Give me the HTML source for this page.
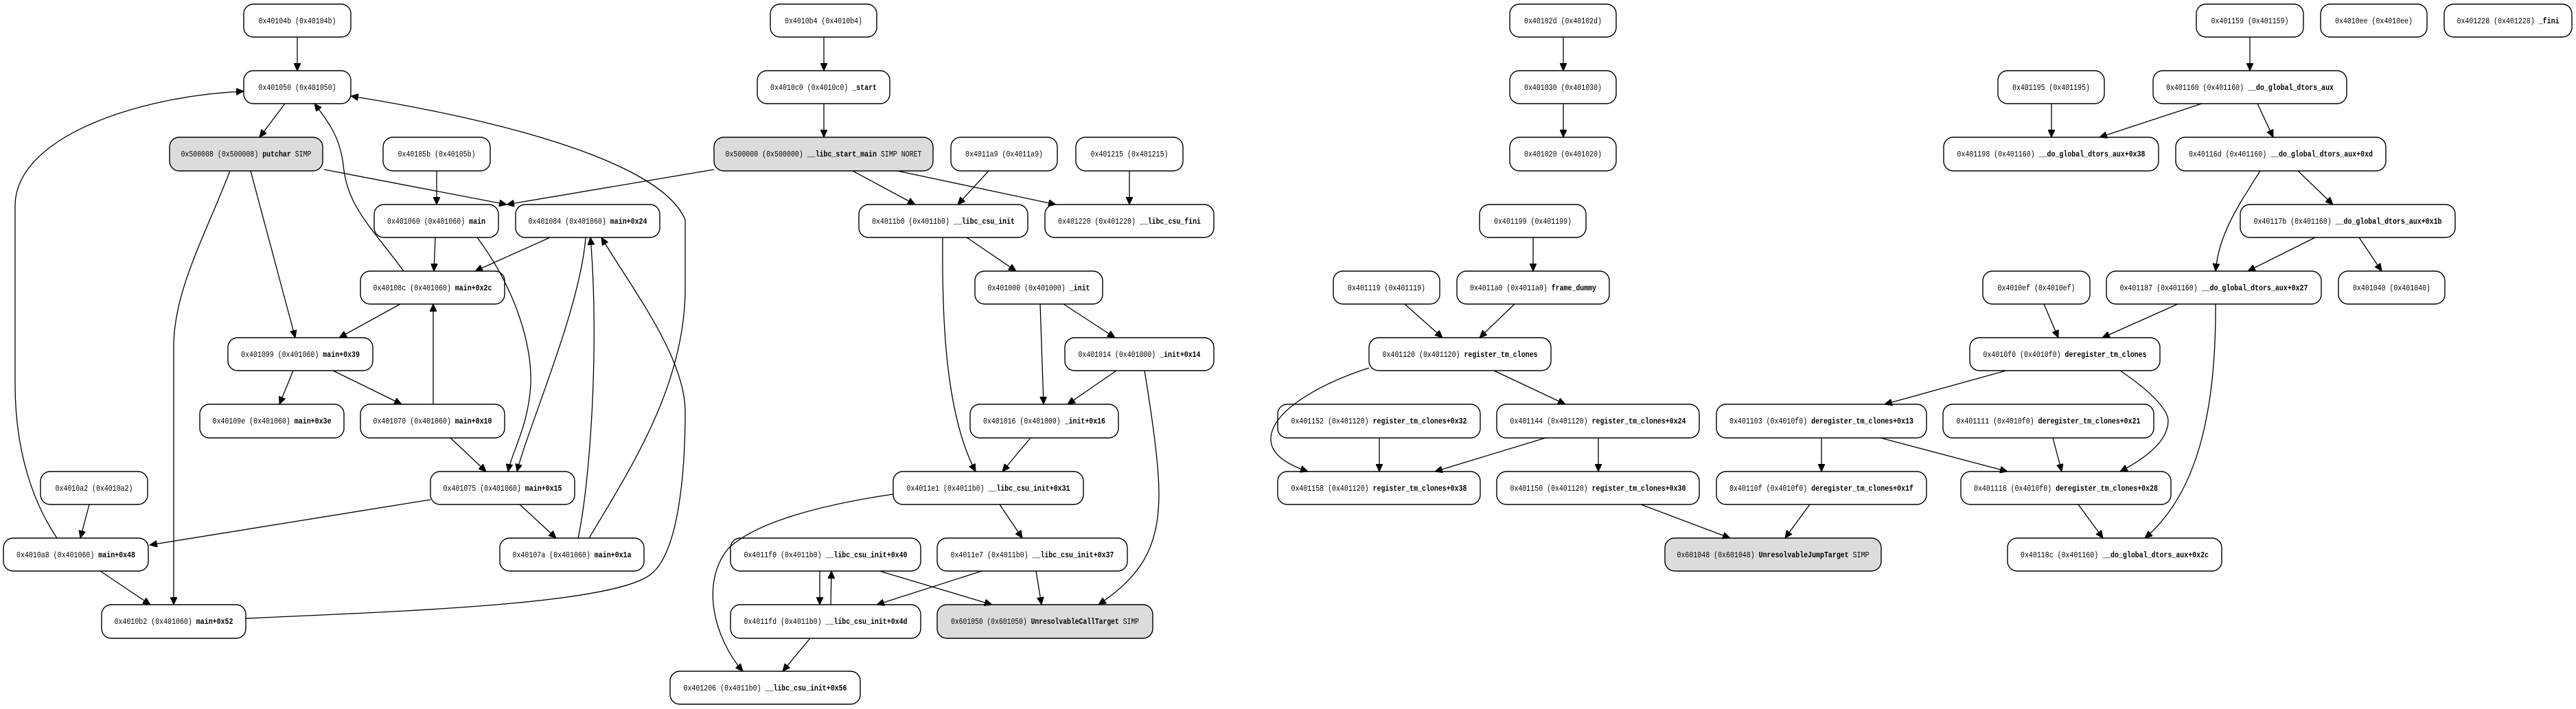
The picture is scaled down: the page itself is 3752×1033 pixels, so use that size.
<!DOCTYPE html>
<html><head><meta charset="utf-8"><style>
html,body{margin:0;padding:0;background:#fff;}
svg{display:block}
.n{fill:#fff;stroke:#000;stroke-width:1.4}
.g{fill:#dcdcdc;stroke:#000;stroke-width:1.4}
text{font-family:"Liberation Mono","DejaVu Sans Mono",monospace;font-size:12px;fill:#000;text-anchor:middle}
.b{font-weight:bold}
path{fill:none;stroke:#000;stroke-width:1.3}
</style></head><body>
<svg width="3752" height="1033" viewBox="0 0 3752 1033" xmlns="http://www.w3.org/2000/svg">
<defs><marker id="a" markerUnits="userSpaceOnUse" markerWidth="12" markerHeight="10" refX="11" refY="5" orient="auto"><path d="M0,0 L11,5 L0,10 z" style="fill:#000;stroke:#000;stroke-width:1"/></marker></defs>

<!-- nodes -->
<rect class="n" x="355" y="6" width="156" height="48" rx="14"/><text x="433" y="34" textLength="113" lengthAdjust="spacingAndGlyphs">0x40104b (0x40104b)</text>
<rect class="n" x="355" y="103" width="156" height="48" rx="14"/><text x="433" y="131" textLength="113" lengthAdjust="spacingAndGlyphs">0x401050 (0x401050)</text>
<rect class="g" x="247" y="200" width="223" height="49" rx="14"/><text x="358.5" y="228" textLength="190" lengthAdjust="spacingAndGlyphs">0x500008 (0x500008) <tspan class="b">putchar</tspan> SIMP</text>
<rect class="n" x="558" y="200" width="156" height="49" rx="14"/><text x="636" y="228" textLength="113" lengthAdjust="spacingAndGlyphs">0x40105b (0x40105b)</text>
<rect class="n" x="545" y="298" width="181" height="48" rx="14"/><text x="635.5" y="326" textLength="143" lengthAdjust="spacingAndGlyphs">0x401060 (0x401060) <tspan class="b">main</tspan></text>
<rect class="n" x="751" y="298" width="210" height="48" rx="14"/><text x="856" y="326" textLength="173" lengthAdjust="spacingAndGlyphs">0x401084 (0x401060) <tspan class="b">main+0x24</tspan></text>
<rect class="n" x="525" y="395" width="210" height="48" rx="14"/><text x="630" y="423" textLength="173" lengthAdjust="spacingAndGlyphs">0x40108c (0x401060) <tspan class="b">main+0x2c</tspan></text>
<rect class="n" x="332" y="492" width="211" height="48" rx="14"/><text x="437.5" y="520" textLength="173" lengthAdjust="spacingAndGlyphs">0x401099 (0x401060) <tspan class="b">main+0x39</tspan></text>
<rect class="n" x="291" y="589" width="210" height="49" rx="14"/><text x="396" y="617" textLength="173" lengthAdjust="spacingAndGlyphs">0x40109e (0x401060) <tspan class="b">main+0x3e</tspan></text>
<rect class="n" x="525" y="589" width="210" height="49" rx="14"/><text x="630" y="617" textLength="173" lengthAdjust="spacingAndGlyphs">0x401070 (0x401060) <tspan class="b">main+0x10</tspan></text>
<rect class="n" x="627" y="687" width="210" height="48" rx="14"/><text x="732" y="715" textLength="173" lengthAdjust="spacingAndGlyphs">0x401075 (0x401060) <tspan class="b">main+0x15</tspan></text>
<rect class="n" x="59" y="687" width="156" height="48" rx="14"/><text x="137" y="715" textLength="113" lengthAdjust="spacingAndGlyphs">0x4010a2 (0x4010a2)</text>
<rect class="n" x="5" y="784" width="211" height="48" rx="14"/><text x="110.5" y="812" textLength="173" lengthAdjust="spacingAndGlyphs">0x4010a8 (0x401060) <tspan class="b">main+0x48</tspan></text>
<rect class="n" x="728" y="784" width="210" height="48" rx="14"/><text x="833" y="812" textLength="173" lengthAdjust="spacingAndGlyphs">0x40107a (0x401060) <tspan class="b">main+0x1a</tspan></text>
<rect class="n" x="148" y="881" width="210" height="49" rx="14"/><text x="253" y="909" textLength="173" lengthAdjust="spacingAndGlyphs">0x4010b2 (0x401060) <tspan class="b">main+0x52</tspan></text>

<rect class="n" x="1122" y="6" width="155" height="48" rx="14"/><text x="1199.5" y="34" textLength="113" lengthAdjust="spacingAndGlyphs">0x4010b4 (0x4010b4)</text>
<rect class="n" x="1103" y="103" width="193" height="48" rx="14"/><text x="1199.5" y="131" textLength="155" lengthAdjust="spacingAndGlyphs">0x4010c0 (0x4010c0) <tspan class="b">_start</tspan></text>
<rect class="g" x="1040" y="200" width="319" height="49" rx="14"/><text x="1199.5" y="228" textLength="286" lengthAdjust="spacingAndGlyphs">0x500000 (0x500000) <tspan class="b">__libc_start_main</tspan> SIMP NORET</text>
<rect class="n" x="1385" y="200" width="155" height="49" rx="14"/><text x="1462.5" y="228" textLength="113" lengthAdjust="spacingAndGlyphs">0x4011a9 (0x4011a9)</text>
<rect class="n" x="1567" y="200" width="156" height="49" rx="14"/><text x="1645" y="228" textLength="113" lengthAdjust="spacingAndGlyphs">0x401215 (0x401215)</text>
<rect class="n" x="1251" y="298" width="246" height="48" rx="14"/><text x="1374" y="326" textLength="208" lengthAdjust="spacingAndGlyphs">0x4011b0 (0x4011b0) <tspan class="b">__libc_csu_init</tspan></text>
<rect class="n" x="1522" y="298" width="246" height="48" rx="14"/><text x="1645" y="326" textLength="208" lengthAdjust="spacingAndGlyphs">0x401220 (0x401220) <tspan class="b">__libc_csu_fini</tspan></text>
<rect class="n" x="1420" y="395" width="186" height="48" rx="14"/><text x="1513" y="423" textLength="149" lengthAdjust="spacingAndGlyphs">0x401000 (0x401000) <tspan class="b">_init</tspan></text>
<rect class="n" x="1551" y="492" width="217" height="48" rx="14"/><text x="1659.5" y="520" textLength="178" lengthAdjust="spacingAndGlyphs">0x401014 (0x401000) <tspan class="b">_init+0x14</tspan></text>
<rect class="n" x="1413" y="589" width="216" height="49" rx="14"/><text x="1521" y="617" textLength="178" lengthAdjust="spacingAndGlyphs">0x401016 (0x401000) <tspan class="b">_init+0x16</tspan></text>
<rect class="n" x="1301" y="687" width="277" height="48" rx="14"/><text x="1439.5" y="715" textLength="238" lengthAdjust="spacingAndGlyphs">0x4011e1 (0x4011b0) <tspan class="b">__libc_csu_init+0x31</tspan></text>
<rect class="n" x="1064" y="784" width="277" height="48" rx="14"/><text x="1202.5" y="812" textLength="238" lengthAdjust="spacingAndGlyphs">0x4011f0 (0x4011b0) <tspan class="b">__libc_csu_init+0x40</tspan></text>
<rect class="n" x="1365" y="784" width="277" height="48" rx="14"/><text x="1503.5" y="812" textLength="238" lengthAdjust="spacingAndGlyphs">0x4011e7 (0x4011b0) <tspan class="b">__libc_csu_init+0x37</tspan></text>
<rect class="n" x="1064" y="881" width="277" height="49" rx="14"/><text x="1202.5" y="909" textLength="238" lengthAdjust="spacingAndGlyphs">0x4011fd (0x4011b0) <tspan class="b">__libc_csu_init+0x4d</tspan></text>
<rect class="g" x="1365" y="881" width="314" height="49" rx="14"/><text x="1522" y="909" textLength="274" lengthAdjust="spacingAndGlyphs">0x601050 (0x601050) <tspan class="b">UnresolvableCallTarget</tspan> SIMP</text>
<rect class="n" x="976" y="978" width="277" height="48" rx="14"/><text x="1114.5" y="1006" textLength="238" lengthAdjust="spacingAndGlyphs">0x401206 (0x4011b0) <tspan class="b">__libc_csu_init+0x56</tspan></text>

<rect class="n" x="2199" y="6" width="155" height="48" rx="14"/><text x="2276.5" y="34" textLength="113" lengthAdjust="spacingAndGlyphs">0x40102d (0x40102d)</text>
<rect class="n" x="2199" y="103" width="155" height="48" rx="14"/><text x="2276.5" y="131" textLength="113" lengthAdjust="spacingAndGlyphs">0x401030 (0x401030)</text>
<rect class="n" x="2199" y="200" width="155" height="49" rx="14"/><text x="2276.5" y="228" textLength="113" lengthAdjust="spacingAndGlyphs">0x401020 (0x401020)</text>
<rect class="n" x="2155" y="298" width="155" height="48" rx="14"/><text x="2232.5" y="326" textLength="113" lengthAdjust="spacingAndGlyphs">0x401199 (0x401199)</text>
<rect class="n" x="1942" y="395" width="155" height="48" rx="14"/><text x="2019.5" y="423" textLength="113" lengthAdjust="spacingAndGlyphs">0x401119 (0x401119)</text>
<rect class="n" x="2122" y="395" width="222" height="48" rx="14"/><text x="2233" y="423" textLength="184" lengthAdjust="spacingAndGlyphs">0x4011a0 (0x4011a0) <tspan class="b">frame_dummy</tspan></text>
<rect class="n" x="1994" y="492" width="265" height="48" rx="14"/><text x="2126.5" y="520" textLength="226" lengthAdjust="spacingAndGlyphs">0x401120 (0x401120) <tspan class="b">register_tm_clones</tspan></text>
<rect class="n" x="1861" y="589" width="295" height="49" rx="14"/><text x="2008.5" y="617" textLength="256" lengthAdjust="spacingAndGlyphs">0x401152 (0x401120) <tspan class="b">register_tm_clones+0x32</tspan></text>
<rect class="n" x="2180" y="589" width="295" height="49" rx="14"/><text x="2327.5" y="617" textLength="256" lengthAdjust="spacingAndGlyphs">0x401144 (0x401120) <tspan class="b">register_tm_clones+0x24</tspan></text>
<rect class="n" x="2500" y="589" width="306" height="49" rx="14"/><text x="2653" y="617" textLength="268" lengthAdjust="spacingAndGlyphs">0x401103 (0x4010f0) <tspan class="b">deregister_tm_clones+0x13</tspan></text>
<rect class="n" x="1861" y="687" width="295" height="48" rx="14"/><text x="2008.5" y="715" textLength="256" lengthAdjust="spacingAndGlyphs">0x401158 (0x401120) <tspan class="b">register_tm_clones+0x38</tspan></text>
<rect class="n" x="2180" y="687" width="295" height="48" rx="14"/><text x="2327.5" y="715" textLength="256" lengthAdjust="spacingAndGlyphs">0x401150 (0x401120) <tspan class="b">register_tm_clones+0x30</tspan></text>
<rect class="n" x="2500" y="687" width="306" height="48" rx="14"/><text x="2653" y="715" textLength="268" lengthAdjust="spacingAndGlyphs">0x40110f (0x4010f0) <tspan class="b">deregister_tm_clones+0x1f</tspan></text>
<rect class="g" x="2425" y="784" width="315" height="48" rx="14"/><text x="2582.5" y="812" textLength="280" lengthAdjust="spacingAndGlyphs">0x601048 (0x601048) <tspan class="b">UnresolvableJumpTarget</tspan> SIMP</text>

<rect class="n" x="3199" y="6" width="156" height="48" rx="14"/><text x="3277" y="34" textLength="113" lengthAdjust="spacingAndGlyphs">0x401159 (0x401159)</text>
<rect class="n" x="3380" y="6" width="155" height="48" rx="14"/><text x="3457.5" y="34" textLength="113" lengthAdjust="spacingAndGlyphs">0x4010ee (0x4010ee)</text>
<rect class="n" x="3560" y="6" width="186" height="48" rx="14"/><text x="3653" y="34" textLength="149" lengthAdjust="spacingAndGlyphs">0x401228 (0x401228) <tspan class="b">_fini</tspan></text>
<rect class="n" x="2910" y="103" width="155" height="48" rx="14"/><text x="2987.5" y="131" textLength="113" lengthAdjust="spacingAndGlyphs">0x401195 (0x401195)</text>
<rect class="n" x="3136" y="103" width="282" height="48" rx="14"/><text x="3277" y="131" textLength="244" lengthAdjust="spacingAndGlyphs">0x401160 (0x401160) <tspan class="b">__do_global_dtors_aux</tspan></text>
<rect class="n" x="2831" y="200" width="313" height="49" rx="14"/><text x="2987.5" y="228" textLength="274" lengthAdjust="spacingAndGlyphs">0x401198 (0x401160) <tspan class="b">__do_global_dtors_aux+0x38</tspan></text>
<rect class="n" x="3169" y="200" width="306" height="49" rx="14"/><text x="3322" y="228" textLength="268" lengthAdjust="spacingAndGlyphs">0x40116d (0x401160) <tspan class="b">__do_global_dtors_aux+0xd</tspan></text>
<rect class="n" x="3263" y="298" width="313" height="48" rx="14"/><text x="3419.5" y="326" textLength="274" lengthAdjust="spacingAndGlyphs">0x40117b (0x401160) <tspan class="b">__do_global_dtors_aux+0x1b</tspan></text>
<rect class="n" x="2888" y="395" width="156" height="48" rx="14"/><text x="2966" y="423" textLength="113" lengthAdjust="spacingAndGlyphs">0x4010ef (0x4010ef)</text>
<rect class="n" x="3068" y="395" width="313" height="48" rx="14"/><text x="3224.5" y="423" textLength="274" lengthAdjust="spacingAndGlyphs">0x401187 (0x401160) <tspan class="b">__do_global_dtors_aux+0x27</tspan></text>
<rect class="n" x="3406" y="395" width="155" height="48" rx="14"/><text x="3483.5" y="423" textLength="113" lengthAdjust="spacingAndGlyphs">0x401040 (0x401040)</text>
<rect class="n" x="2869" y="492" width="277" height="48" rx="14"/><text x="3007.5" y="520" textLength="238" lengthAdjust="spacingAndGlyphs">0x4010f0 (0x4010f0) <tspan class="b">deregister_tm_clones</tspan></text>
<rect class="n" x="2830" y="589" width="307" height="49" rx="14"/><text x="2983.5" y="617" textLength="268" lengthAdjust="spacingAndGlyphs">0x401111 (0x4010f0) <tspan class="b">deregister_tm_clones+0x21</tspan></text>
<rect class="n" x="2856" y="687" width="306" height="48" rx="14"/><text x="3009" y="715" textLength="268" lengthAdjust="spacingAndGlyphs">0x401118 (0x4010f0) <tspan class="b">deregister_tm_clones+0x28</tspan></text>
<rect class="n" x="2924" y="784" width="312" height="48" rx="14"/><text x="3080" y="812" textLength="274" lengthAdjust="spacingAndGlyphs">0x40118c (0x401160) <tspan class="b">__do_global_dtors_aux+0x2c</tspan></text>

<!-- edges -->
<g marker-end="url(#a)">
<path d="M433,54 L433,103"/>
<path d="M415,151 L378,200"/>
<path d="M588,395 C540,330 505,300 500,240 C495,200 480,180 458,151"/>
<path d="M83,784 C40,720 22,640 22,560 L22,300 C22,200 200,140 355,133"/>
<path d="M858,784 C920,680 998,560 998,420 L998,320 C960,230 700,170 511,140"/>
<path d="M472,247 L738,298"/>
<path d="M365,249 L430,492"/>
<path d="M335,249 C300,340 255,420 253,500 L253,881"/>
<path d="M636,249 L636,298"/>
<path d="M634,346 L632,395"/>
<path d="M695,346 C750,420 775,500 773,560 C770,620 745,660 740,687"/>
<path d="M801,346 L692,395"/>
<path d="M853,346 C845,450 770,620 753,687"/>
<path d="M842,784 C860,700 873,500 860,346"/>
<path d="M358,901 C600,890 900,880 950,835 C990,800 998,680 998,600 C998,520 920,420 876,346"/>
<path d="M583,443 L494,492"/>
<path d="M631,589 L631,443"/>
<path d="M427,540 L407,589"/>
<path d="M485,540 L585,589"/>
<path d="M656,638 L708,687"/>
<path d="M627,728 L218,794"/>
<path d="M757,735 L810,784"/>
<path d="M130,735 L117,784"/>
<path d="M146,832 L219,881"/>

<path d="M1200,54 L1200,103"/>
<path d="M1200,151 L1200,200"/>
<path d="M1040,247 L738,298"/>
<path d="M1242,249 L1333,298"/>
<path d="M1307,249 L1538,298"/>
<path d="M1440,249 L1395,298"/>
<path d="M1645,249 L1645,298"/>
<path d="M1408,346 L1480,395"/>
<path d="M1373,346 C1372,450 1375,600 1421,687"/>
<path d="M1515,443 L1520,589"/>
<path d="M1549,443 L1624,492"/>
<path d="M1626,540 L1555,589"/>
<path d="M1667,540 C1680,620 1688,680 1688,720 C1688,800 1660,840 1600,881"/>
<path d="M1501,638 L1460,687"/>
<path d="M1456,735 L1489,784"/>
<path d="M1301,720 C1200,735 1100,760 1060,800 C1020,850 1040,930 1082,978"/>
<path d="M1194,832 L1194,881"/>
<path d="M1210,881 L1211,832"/>
<path d="M1281,832 L1445,881"/>
<path d="M1430,832 L1277,881"/>
<path d="M1509,832 L1517,881"/>
<path d="M1180,930 L1140,978"/>

<path d="M2277,54 L2277,103"/>
<path d="M2277,151 L2277,200"/>
<path d="M2233,346 L2233,395"/>
<path d="M2046,443 L2101,492"/>
<path d="M2206,443 L2155,492"/>
<path d="M1994,536 C1920,560 1851,600 1851,640 C1851,660 1870,675 1905,687"/>
<path d="M2176,540 L2280,589"/>
<path d="M2009,638 L2009,687"/>
<path d="M2251,638 L2090,687"/>
<path d="M2328,638 L2328,687"/>
<path d="M2390,735 L2520,784"/>
<path d="M2636,735 L2600,784"/>
<path d="M2653,638 L2653,687"/>
<path d="M2739,638 L2924,687"/>
<path d="M2922,540 L2745,589"/>
<path d="M3088,540 C3140,575 3158,600 3158,613 C3158,640 3130,665 3088,687"/>
<path d="M2990,638 L3003,687"/>
<path d="M3027,735 L3063,784"/>
<path d="M3227,443 C3228,600 3200,720 3124,784"/>
<path d="M3172,443 L3062,492"/>
<path d="M2977,443 L2998,492"/>
<path d="M3372,346 L3274,395"/>
<path d="M3436,346 L3469,395"/>
<path d="M3347,249 L3398,298"/>
<path d="M3292,249 C3260,300 3232,340 3227,395"/>
<path d="M3207,151 L3058,200"/>
<path d="M3288,151 L3311,200"/>
<path d="M2988,151 L2988,200"/>
<path d="M3277,54 L3277,103"/>
</g>
</svg>
</body></html>
